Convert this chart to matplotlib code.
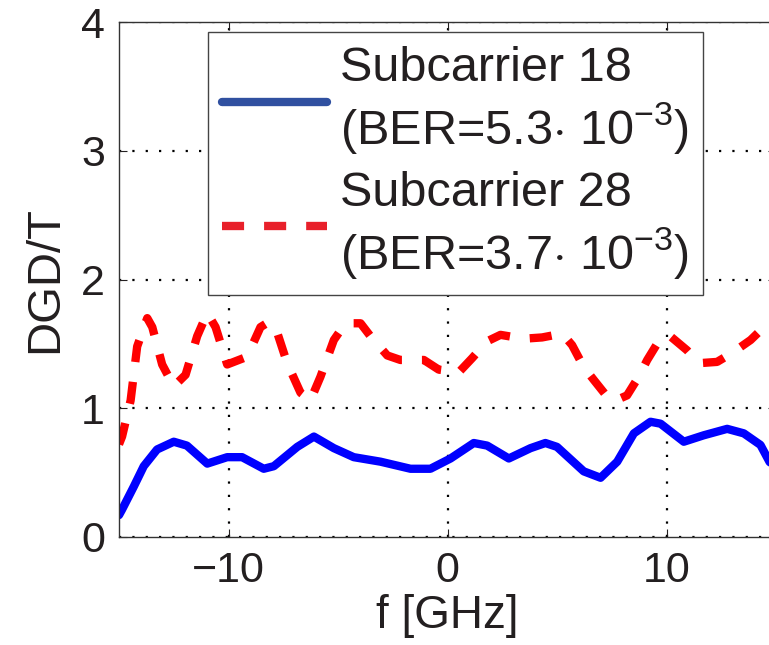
import numpy as np
import matplotlib
matplotlib.use("Agg")
import matplotlib.pyplot as plt

plt.rcParams['font.family'] = ['Liberation Sans', 'DejaVu Sans']
plt.rcParams['mathtext.fontset'] = 'custom'
plt.rcParams['mathtext.rm'] = 'Liberation Sans'
plt.rcParams['mathtext.it'] = 'Liberation Sans'

# subcarrier 18 (solid blue)
f18 = [-15.0, -14.87, -14.33, -13.87, -13.26, -12.5, -11.9, -10.97, -10.06, -9.38,
       -8.39, -7.93, -6.86, -6.1, -5.19, -4.28, -3.06, -1.69, -0.78, 0.14,
       1.2, 1.81, 2.8, 3.79, 4.47, 5.0, 6.22, 6.99, 7.75, 8.51,
       9.27, 9.73, 10.79, 11.7, 12.77, 13.53, 14.29, 14.7, 15.0]
dgd18 = [0.17, 0.21, 0.39, 0.55, 0.68, 0.74, 0.71, 0.57, 0.62, 0.62,
         0.53, 0.55, 0.70, 0.78, 0.69, 0.62, 0.585, 0.53, 0.53, 0.61,
         0.73, 0.71, 0.61, 0.69, 0.73, 0.70, 0.51, 0.46, 0.585, 0.805,
         0.895, 0.88, 0.74, 0.79, 0.84, 0.805, 0.715, 0.585, 0.52]

# subcarrier 28 (dashed red)
f28 = [-15.0, -14.86, -14.47, -14.17, -13.71, -13.48, -13.03, -12.5, -11.96, -11.43,
       -10.97, -10.59, -10.06, -9.15, -8.54, -8.16, -7.78, -7.32, -6.71, -6.26,
       -5.8, -5.19, -4.66, -3.97, -3.52, -2.75, -2.15, -1.08, -0.4, 0.52,
       1.13, 1.81, 2.42, 3.48, 4.32, 5.24, 5.69, 6.22, 6.68, 7.29,
       7.67, 8.2, 8.73, 9.12, 9.57, 10.1, 10.94, 11.48, 12.31, 13.0,
       13.84, 14.45, 15.0]
dgd28 = [0.72, 0.78, 1.06, 1.48, 1.70, 1.63, 1.34, 1.17, 1.26, 1.56,
         1.74, 1.63, 1.34, 1.40, 1.63, 1.67, 1.59, 1.35, 1.12, 1.06,
         1.245, 1.53, 1.66, 1.66, 1.56, 1.41, 1.375, 1.375, 1.30, 1.28,
         1.39, 1.52, 1.57, 1.54, 1.55, 1.58, 1.49, 1.32, 1.22, 1.09,
         1.06, 1.10, 1.245, 1.375, 1.50, 1.57, 1.45, 1.35, 1.36, 1.43,
         1.53, 1.63, 1.71]

labels = ['Subcarrier 18\n(BER=5.3$\\cdot$ 10$^{-3}$)',
          'Subcarrier 28\n(BER=3.7$\\cdot$ 10$^{-3}$)']
xticks = [-10, 0, 10]
yticks = [0, 1, 2, 3, 4]

fig = plt.figure(figsize=(7.69, 6.45), dpi=100)
ax = fig.add_axes([119 / 769, 1 - 537 / 645, 657 / 769, 515 / 645])

ax.plot(f18, dgd18, color='#0000ff', linewidth=6, label=labels[0],
        solid_capstyle='round', solid_joinstyle='round')
ax.plot(f28, dgd28, color='#ff0000', linewidth=6, linestyle=(0, (2.65, 2.4)),
        label=labels[1])

ax.set_xlim(-15, 15)
ax.set_ylim(0, 4)
ax.set_xticks(xticks)
ax.set_yticks(yticks)
ax.set_xticklabels(['\u221210', '0', '10'])
ax.grid(True, color='black', linestyle=(0, (1, 5)), linewidth=1.6)
ax.tick_params(direction='in', length=6, width=0.8, top=True, right=True,
               labelsize=31, colors='#231f20', pad=10)
for s in ax.spines.values():
    s.set_linewidth(1.0)
    s.set_color('#333333')

ax.set_xlabel('f [GHz]', fontsize=33, color='#231f20', labelpad=2)
ax.set_ylabel('DGD/T', fontsize=34, color='#231f20', labelpad=10)

leg = ax.legend(loc='upper left', bbox_to_anchor=(0.135, 0.981), fontsize=35,
                handlelength=2.15, handletextpad=0.27, borderpad=0.3,
                labelspacing=0.3, fancybox=False, framealpha=1,
                edgecolor='#444444', borderaxespad=0)
leg.get_frame().set_linewidth(1.0)
leg.legend_handles[0].set_color('#3050a0')
leg.legend_handles[1].set_color('#e8202a')
for t in leg.get_texts():
    t.set_color('#231f20')

fig.savefig('out.png', dpi=100)
